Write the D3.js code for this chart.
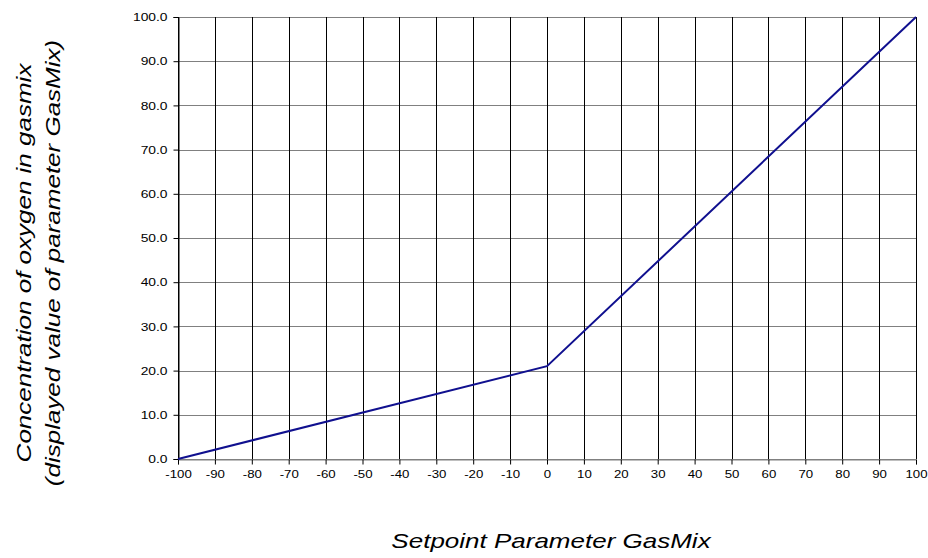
<!DOCTYPE html>
<html>
<head>
<meta charset="utf-8">
<script src="https://cdn.jsdelivr.net/npm/d3@7"></script>
<style>
  html, body { margin: 0; padding: 0; background: #fff; }
  text { font-family: "Liberation Sans", Arial, sans-serif; fill: #000; }
</style>
</head>
<body>
<svg id="chart" width="928" height="558"></svg>
<script>
// Setpoint of parameter GasMix and the resulting oxygen concentration
const setpoints = [-100, 0, 100];
const oxygen = [0, 21, 100];
const xTicks = d3.range(-100, 101, 10);
const yTicks = d3.range(0, 101, 10);
const xTitle = "Setpoint Parameter GasMix";
const yTitle = ["Concentration of oxygen in gasmix", "(displayed value of parameter GasMix)"];

const svg = d3.select("#chart");
const margin = { left: 178, right: 12, top: 17, bottom: 99 };
const W = 928, H = 558;

const x = d3.scaleLinear().domain([-100, 100]).range([margin.left, W - margin.right]);
const y = d3.scaleLinear().domain([0, 100]).range([H - margin.bottom, margin.top]);

// stretch tick text along its own direction
function widen(sel, k) {
  sel.each(function () {
    const len = this.getComputedTextLength();
    d3.select(this).attr("textLength", len * k).attr("lengthAdjust", "spacingAndGlyphs");
  });
}

// horizontal grid (grey)
svg.append("g").selectAll("line").data(yTicks).join("line")
  .attr("x1", x(-100)).attr("x2", x(100))
  .attr("y1", d => Math.round(y(d)) + 0.5).attr("y2", d => Math.round(y(d)) + 0.5)
  .attr("stroke", "#808080").attr("stroke-width", 1);

// vertical grid (black)
svg.append("g").selectAll("line").data(xTicks).join("line")
  .attr("x1", d => Math.round(x(d)) + 0.5).attr("x2", d => Math.round(x(d)) + 0.5)
  .attr("y1", y(100)).attr("y2", y(0))
  .attr("stroke", "#000").attr("stroke-width", 1);

// y axis
const yAxis = svg.append("g")
  .attr("transform", `translate(${Math.round(x(-100)) + 0.5},0)`)
  .call(d3.axisLeft(y).tickValues(yTicks).tickFormat(d => d.toFixed(1)).tickSize(5).tickPadding(6));
yAxis.select(".domain").attr("stroke", "#000");
yAxis.selectAll(".tick line").attr("stroke", "#000");
yAxis.selectAll(".tick text").attr("font-size", 11.5).attr("font-family", "Liberation Sans, Arial, sans-serif").attr("fill", "#000");
yAxis.selectAll(".tick text").call(widen, 1.2);

// x axis (plain hyphen for negatives)
const xAxis = svg.append("g")
  .attr("transform", `translate(0,${Math.round(y(0)) + 0.5})`)
  .call(d3.axisBottom(x).tickValues(xTicks).tickFormat(d => String(d)).tickSize(5).tickPadding(5));
xAxis.select(".domain").attr("stroke", "#808080");
xAxis.selectAll(".tick line").attr("stroke", "#000");
xAxis.selectAll(".tick text").attr("font-size", 11.5).attr("font-family", "Liberation Sans, Arial, sans-serif").attr("fill", "#000");
xAxis.selectAll(".tick text").call(widen, 1.15);

// characteristic line
const pts = setpoints.map((s, i) => [s, oxygen[i]]);
svg.append("path")
  .datum(pts)
  .attr("fill", "none")
  .attr("stroke", "#10108f")
  .attr("stroke-width", 2)
  .attr("d", d3.line().x(d => x(d[0])).y(d => y(d[1])));

// axis titles (wide italic lettering)
svg.append("g").attr("transform", "translate(551,548) scale(1.3,1)")
  .append("text")
  .attr("text-anchor", "middle")
  .attr("font-size", 20).attr("font-style", "italic")
  .text(xTitle);

yTitle.forEach((t, i) => {
  svg.append("g").attr("transform", `translate(${31 + i * 29},263) rotate(-90) scale(1.3,1)`)
    .append("text")
    .attr("text-anchor", "middle")
    .attr("font-size", 20).attr("font-style", "italic")
    .text(t);
});
</script>
</body>
</html>
